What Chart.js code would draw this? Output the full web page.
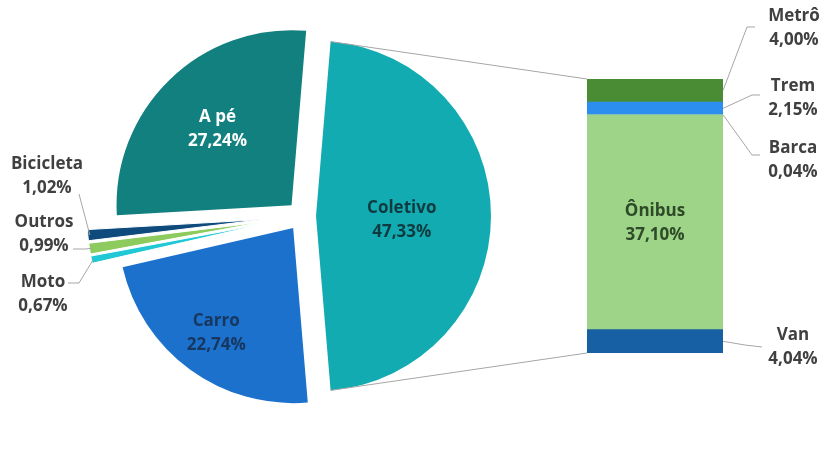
<!DOCTYPE html>
<html>
<head>
<meta charset="utf-8">
<title>Divisão modal</title>
<script src="https://cdn.jsdelivr.net/npm/chart.js@4.4.1/dist/chart.umd.min.js"></script>
<style>
  html, body { margin: 0; padding: 0; background: #fff; }
  #wrap { position: relative; width: 824px; height: 459px; }
  #wrap canvas { position: absolute; left: 0; top: 0; }
</style>
</head>
<body>
<div id="wrap">
  <canvas id="pie" width="824" height="459"></canvas>
  <canvas id="bar" width="824" height="459"></canvas>
</div>
<script>
// modos de transporte (pizza), sentido horário a partir do coletivo
const modes = ['Coletivo', 'Carro', 'Moto', 'Outros', 'Bicicleta', 'A pé'];
const modeShares = [47.33, 22.74, 0.67, 0.99, 1.02, 27.24];

// detalhamento do coletivo (barra), de baixo para cima
const transitModes = ['Van', 'Ônibus', 'Barca', 'Trem', 'Metrô'];
const transitShares = [4.04, 37.10, 0.04, 2.15, 4.00];

const modeColors = ['#12abb1', '#1c71cd', '#20c8d5', '#8dcb5e', '#0e4a7c', '#11807f'];
const transitColors = ['#1660a3', '#9dd487', '#7fb0e0', '#2c8ff0', '#4a8c34'];

const FONT = 'bold 17px "Open Sans", sans-serif';
const LABEL_GREY = '#404040';
const LINE_GREY = '#a6a6a6';

const pieTotal = modeShares.reduce((a, b) => a + b, 0);
const barTotal = transitShares.reduce((a, b) => a + b, 0);
const pieRadius = 175;
// how far each slice is pulled out of the center, in px
const sliceShift = [14, 15, 40, 40, 40, 15];

function pct(v) {
	return v.toFixed(2).replace('.', ',') + '%';
}

function midAngle(arc) {
	return (arc.startAngle + arc.endAngle) / 2;
}

// point at angle/radius measured from the (pulled out) tip of a slice
function slicePoint(arc, shift, angle, r) {
	const mid = midAngle(arc);
	return {
		x: arc.x + Math.cos(mid) * shift + Math.cos(angle) * r,
		y: arc.y + Math.sin(mid) * shift + Math.sin(angle) * r,
	};
}

function twoLines(ctx, a, b, x, y, color) {
	ctx.fillStyle = color;
	ctx.fillText(a, x, y);
	ctx.fillText(b, x, y + 24);
}

function polyline(ctx, pts) {
	ctx.beginPath();
	ctx.moveTo(pts[0].x, pts[0].y);
	for (let i = 1; i < pts.length; i++) ctx.lineTo(pts[i].x, pts[i].y);
	ctx.stroke();
}

// the built-in arc offset also grows the radius and trims the angle,
// so the slices are drawn here with a plain translation instead
const explodePlugin = {
	id: 'explode',
	beforeDatasetsDraw(chart) {
		const ctx = chart.ctx;
		chart.getDatasetMeta(0).data.forEach(function (arc, i) {
			const mid = midAngle(arc);
			ctx.save();
			ctx.translate(Math.cos(mid) * sliceShift[i], Math.sin(mid) * sliceShift[i]);
			arc.draw(ctx);
			ctx.restore();
		});
		return false;
	},
};

// labels inside the big slices: distance from tip (fraction of radius) and colour
const insideLabels = {
	0: { f: 0.49, dy: 4, color: '#0f3b40' },
	1: { f: 0.745, dy: 0, color: '#17375e' },
	5: { f: 0.606, dy: 0, color: '#ffffff' },
};
// small slices get their labels outside, with a leader line
const outsideLabels = {
	4: { x: 47, y: 164, leader: [{ x: 79, y: 194 }] },
	3: { x: 44, y: 222, leader: [{ x: 73, y: 249 }, { x: 85, y: 249 }] },
	2: { x: 43, y: 282, leader: [{ x: 68, y: 283 }, { x: 79, y: 283 }] },
};

const pieLabelPlugin = {
	id: 'pieLabels',
	afterDraw(chart) {
		const ctx = chart.ctx;
		const arcs = chart.getDatasetMeta(0).data;
		ctx.save();
		ctx.font = FONT;
		ctx.textAlign = 'center';
		ctx.textBaseline = 'middle';
		ctx.strokeStyle = LINE_GREY;
		ctx.lineWidth = 1;
		arcs.forEach(function (arc, i) {
			const name = modes[i];
			const value = pct(modeShares[i]);
			const mid = midAngle(arc);
			if (insideLabels[i]) {
				const lab = insideLabels[i];
				const p = slicePoint(arc, sliceShift[i], mid, lab.f * arc.outerRadius);
				twoLines(ctx, name, value, p.x, p.y - 12 + lab.dy, lab.color);
			} else if (outsideLabels[i]) {
				const o = outsideLabels[i];
				const edge = slicePoint(arc, sliceShift[i], mid, arc.outerRadius - 2);
				polyline(ctx, o.leader.concat([edge]));
				twoLines(ctx, name, value, o.x, o.y, LABEL_GREY);
			}
		});
		ctx.restore();
	},
};

const pieChart = new Chart(document.getElementById('pie'), {
	type: 'pie',
	data: {
		labels: modes,
		datasets: [
			{
				data: modeShares,
				backgroundColor: modeColors,
				// thin white seams between the small slices
				borderWidth: [0, 0, 1, 1, 1, 0],
				borderColor: '#ffffff',
				hoverOffset: 0,
			},
		],
	},
	options: {
		responsive: false,
		animation: false,
		events: [],
		radius: pieRadius,
		// start the coletivo slice so that it sits centred on the right
		rotation: 90 - (modeShares[0] / pieTotal) * 180,
		layout: { padding: { left: 102, right: 322, top: 16, bottom: 43 } },
		plugins: {
			legend: { display: false },
			tooltip: { enabled: false },
		},
	},
	plugins: [explodePlugin, pieLabelPlugin],
});

// label spots for the bar segments, keyed by dataset index
const barLabels = {
	4: { x: 794, y: 16, leader: [{ x: 747, y: 27 }, { x: 755, y: 27 }] },
	3: { x: 793, y: 86, leader: [{ x: 752, y: 95 }, { x: 760, y: 95 }] },
	2: { x: 793, y: 148, leader: [{ x: 752, y: 155 }, { x: 760, y: 155 }] },
	0: { x: 793, y: 335, leader: [{ x: 745, y: 345 }, { x: 762, y: 347 }] },
};

const barLabelPlugin = {
	id: 'barLabels',
	afterDraw(chart) {
		const ctx = chart.ctx;
		const top = chart.getDatasetMeta(transitShares.length - 1).data[0];
		const bottom = chart.getDatasetMeta(0).data[0];
		const left = top.x - top.width / 2;
		const right = top.x + top.width / 2;

		ctx.save();
		ctx.strokeStyle = LINE_GREY;
		ctx.lineWidth = 1;

		// lines from the coletivo slice to the bar
		const arc = pieChart.getDatasetMeta(0).data[0];
		const a = slicePoint(arc, sliceShift[0], arc.startAngle, arc.outerRadius);
		const b = slicePoint(arc, sliceShift[0], arc.endAngle, arc.outerRadius);
		polyline(ctx, [a, { x: left, y: top.y }]);
		polyline(ctx, [b, { x: left, y: bottom.base }]);

		ctx.font = FONT;
		ctx.textAlign = 'center';
		ctx.textBaseline = 'middle';
		transitShares.forEach(function (v, d) {
			const el = chart.getDatasetMeta(d).data[0];
			const midY = (el.y + el.base) / 2;
			const name = transitModes[d];
			if (barLabels[d]) {
				const o = barLabels[d];
				polyline(ctx, [{ x: right, y: midY }].concat(o.leader));
				twoLines(ctx, name, pct(v), o.x, o.y, LABEL_GREY);
			} else {
				twoLines(ctx, name, pct(v), el.x, midY - 11, '#2e4a28');
			}
		});
		ctx.restore();
	},
};

new Chart(document.getElementById('bar'), {
	type: 'bar',
	data: {
		labels: ['Coletivo'],
		datasets: transitModes.map(function (name, d) {
			return {
				label: name,
				data: [transitShares[d]],
				backgroundColor: transitColors[d],
				borderWidth: 0,
				barPercentage: 1,
				categoryPercentage: 1,
			};
		}),
	},
	options: {
		responsive: false,
		animation: false,
		events: [],
		layout: { padding: { left: 587, right: 101, top: 79, bottom: 106 } },
		scales: {
			x: { stacked: true, display: false },
			y: { stacked: true, display: false, min: 0, max: barTotal },
		},
		plugins: {
			legend: { display: false },
			tooltip: { enabled: false },
		},
	},
	plugins: [barLabelPlugin],
});
</script>
</body>
</html>
